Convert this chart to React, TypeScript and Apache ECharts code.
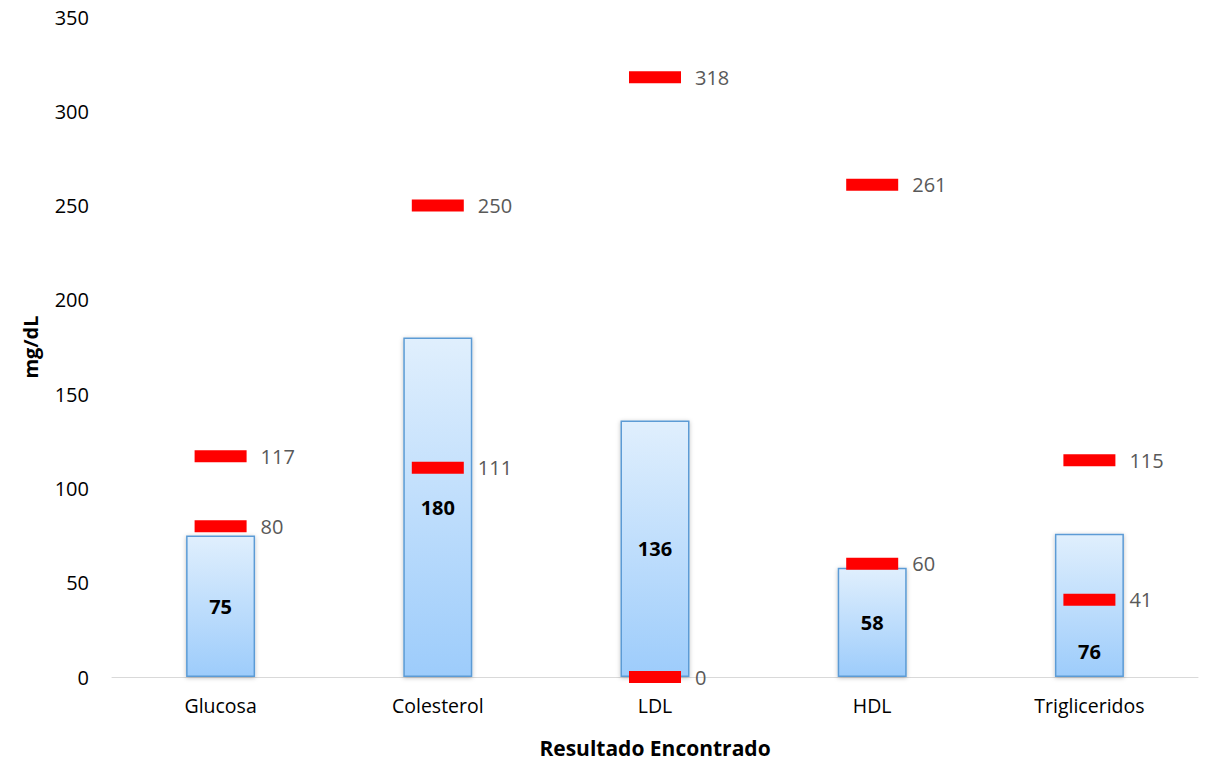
import React, { useEffect, useRef } from "react";
import * as echarts from "echarts";

const categories = ["Glucosa", "Colesterol", "LDL", "HDL", "Trigliceridos"];
const resultValues = [75, 180, 136, 58, 76];
const upperValues = [117, 250, 318, 261, 115];
const lowerValues = [80, 111, 0, 60, 41];
const yTicks = { min: 0, max: 350, interval: 50 };

const FONT = "Open Sans";

export default function App() {
  const ref = useRef<HTMLDivElement>(null);
  useEffect(() => {
    if (!ref.current) return;
    const chart = echarts.init(ref.current, undefined, { renderer: "svg" });
    const markerLabel = {
      show: true,
      position: "right" as const,
      distance: 14,
      color: "#595959",
      fontSize: 20,
      fontFamily: FONT,
    };
    chart.setOption({
      animation: false,
      grid: { left: 112, right: 13, top: 17, bottom: 83, outerBoundsMode: "none", containLabel: false },
      xAxis: {
        type: "category",
        data: categories,
        name: "Resultado Encontrado",
        nameLocation: "middle",
        nameGap: 60,
        nameTextStyle: { fontFamily: FONT, fontSize: 21, fontWeight: "bold", color: "#000" },
        axisLine: { lineStyle: { color: "#d9d9d9", width: 1 } },
        axisTick: { show: false },
        axisLabel: { fontFamily: FONT, fontSize: 19.5, color: "#000", margin: 18 },
      },
      yAxis: {
        type: "value",
        min: yTicks.min,
        max: yTicks.max,
        interval: yTicks.interval,
        name: "mg/dL",
        nameLocation: "middle",
        nameGap: 72,
        nameTextStyle: { fontFamily: FONT, fontSize: 20, fontWeight: "bold", color: "#000" },
        axisLine: { show: false },
        axisTick: { show: false },
        splitLine: { show: false },
        axisLabel: { fontFamily: FONT, fontSize: 20, color: "#000", margin: 23 },
      },
      series: [
        {
          type: "bar",
          data: resultValues.map((v, i) =>
            i === 4
              ? { value: v, label: { position: "insideBottom", distance: 16 } }
              : v
          ),
          barWidth: 69,
          itemStyle: {
            color: new echarts.graphic.LinearGradient(0, 0, 0, 1, [
              { offset: 0, color: "#e0effd" },
              { offset: 1, color: "#9dccfb" },
            ]),
            borderColor: "#5b9bd5",
            borderWidth: 1.5,
            shadowColor: "rgba(0,0,0,0.25)",
            shadowBlur: 4,
            shadowOffsetY: 1,
          },
          label: {
            show: true,
            position: "inside",
            fontFamily: FONT,
            fontSize: 20,
            fontWeight: "bold",
            color: "#000",
          },
          z: 1,
        },
        {
          type: "scatter",
          data: upperValues,
          symbol: "rect",
          symbolSize: [52, 12],
          itemStyle: { color: "#ff0000", opacity: 1 },
          label: markerLabel,
          z: 3,
        },
        {
          type: "scatter",
          data: lowerValues,
          symbol: "rect",
          symbolSize: [52, 12],
          itemStyle: { color: "#ff0000", opacity: 1 },
          label: markerLabel,
          z: 3,
        },
      ],
    });
    return () => chart.dispose();
  }, []);
  return (
    <div
      ref={ref}
      style={{ position: "absolute", left: 0, top: 0, width: 1211, height: 760 }}
    />
  );
}
